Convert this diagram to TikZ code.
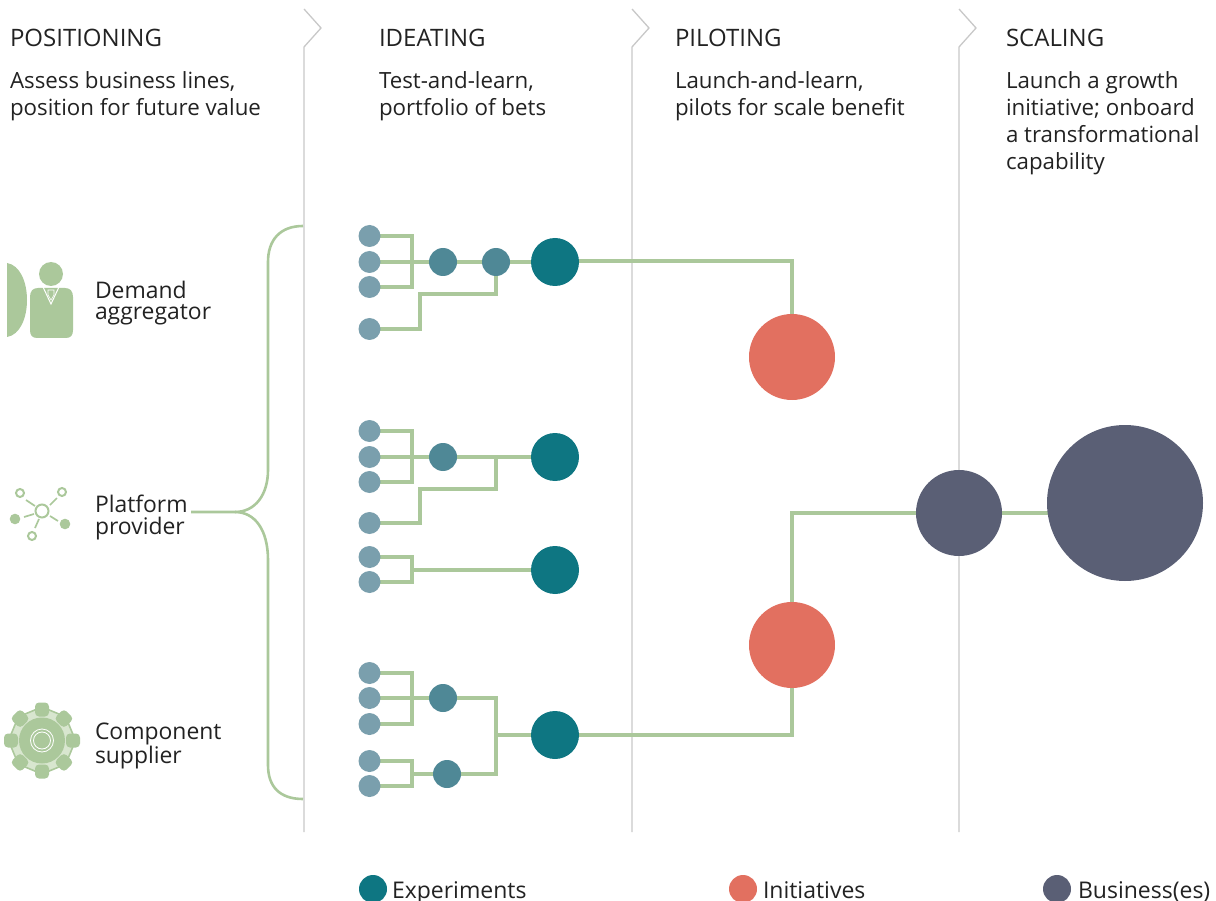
\documentclass[tikz,border=0pt]{standalone}
\usepackage{fontspec}
\setmainfont{Open Sans}
\usetikzlibrary{calc}
\definecolor{cgreen}{HTML}{ABC89B}
\definecolor{clight}{HTML}{D8E6CF}
\definecolor{cgrey}{HTML}{C8C8C8}
\definecolor{cteal}{HTML}{0E7682}
\definecolor{cmed}{HTML}{4F8896}
\definecolor{csmall}{HTML}{7A9FAD}
\definecolor{cred}{HTML}{E27060}
\definecolor{cslate}{HTML}{5A5F75}
\definecolor{ctext}{HTML}{222222}
\tikzset{
 x=1pt,y=-1pt,
 dot/.style={circle,draw=none,inner sep=0pt,minimum size=#1},
 sm/.style={dot=22pt,fill=csmall},
 md/.style={dot=28pt,fill=cmed},
 lg/.style={dot=48pt,fill=cteal},
 ini/.style={dot=86pt,fill=cred},
 biz/.style={dot=86pt,fill=cslate},
 bigbiz/.style={dot=156pt,fill=cslate},
 leg/.style={dot=28pt},
 conn/.style={draw=cgreen,line width=3.3pt},
 bracepath/.style={draw=cgreen,line width=2.6pt},
 phase/.style={draw=cgrey,line width=1.3pt},
 txt/.style={anchor=north west,inner sep=0pt,outer sep=0pt,align=left,text=ctext,font=\fontsize{22.9}{21.5}\selectfont},
 head/.style={anchor=base west,inner sep=0pt,outer sep=0pt,text=ctext,font=\fontsize{24}{27}\selectfont},
 legt/.style={anchor=base west,inner sep=0pt,outer sep=0pt,text=ctext,font=\fontsize{23}{27}\selectfont},
 body/.style={txt,font=\fontsize{22.3}{27}\selectfont},
 icon/.style={fill=cgreen,draw=none},
 ring/.style={draw=cgreen,line width=2pt,fill=white},
}
\begin{document}
\begin{tikzpicture}
\useasboundingbox (0,0) rectangle (1216,901);

% phase dividers
\foreach \px in {304,632,959}{
 \draw[phase] (\px,832) -- (\px,47) -- (\px+17,28) -- (\px,9);
}

% headers
\node[head] (h1) at (10,46.5) {POSITIONING};
\node[head] (h2) at (379,46.5) {IDEATING};
\node[head] (h3) at (675,46.5) {PILOTING};
\node[head] (h4) at (1006,46.5) {SCALING};
\node[body] (b1) at (10,72) {Assess business lines,\\position for future value};
\node[body] (b2) at (379,72) {Test-and-learn,\\portfolio of bets};
\node[body] (b3) at (675,72) {Launch-and-learn,\\pilots for scale benefit};
\node[body] (b4) at (1006,72) {Launch a growth\\initiative; onboard\\a transformational\\capability};

% row labels
\node[txt] (l1) at (95,281) {Demand\\aggregator};
\node[txt] (l2) at (95,495) {Platform\\provider};
\node[txt] (l3) at (95,723) {Component\\supplier};

% positions (named first, so the connectors can lie under the circles)
\coordinate (a1) at (369.5,236);
\coordinate (a2) at (369.5,262);
\coordinate (a3) at (369.5,287);
\coordinate (a4) at (369.5,329);
\coordinate (a5) at (443,262);
\coordinate (a6) at (496,262);
\coordinate (a7) at (555,262);
\coordinate (i1) at (792,357);
\coordinate (c1) at (369.5,431);
\coordinate (c2) at (369.5,457);
\coordinate (c3) at (369.5,482);
\coordinate (c4) at (369.5,523);
\coordinate (c5) at (443,457);
\coordinate (c7) at (555,457);
\coordinate (d1) at (369.5,557);
\coordinate (d2) at (369.5,582);
\coordinate (d7) at (555,570);
\coordinate (e1) at (369.5,673);
\coordinate (e2) at (369.5,698);
\coordinate (e3) at (369.5,724);
\coordinate (e5) at (443,698);
\coordinate (f1) at (369.5,761);
\coordinate (f2) at (369.5,786);
\coordinate (f5) at (447,774);
\coordinate (e7) at (555,735);
\coordinate (i2) at (792,645);
\coordinate (b5) at (959,513);
\coordinate (b6) at (1125,503);
\coordinate (bs) at (191,512);
\coordinate (bt) at (303,226);
\coordinate (bb) at (303,799);

% connectors
\draw[conn] (a1) -| (412,287) -- (a3);
\draw[conn] (a2) -- (a5) -- (a6) -- (a7);
\draw[conn] (a4) -| (420,294) -| (a6);
\draw[conn] (555,261) -| (i1);
\draw[conn] (c1) -| (412,482) -- (c3);
\draw[conn] (c2) -- (c5) -- (c7);
\draw[conn] (c4) -| (420,489) -| (496,457);
\draw[conn] (d1) -| (412,582) -- (d2);
\draw[conn] (412,570) -- (d7);
\draw[conn] (e1) -| (412,724) -- (e3);
\draw[conn] (e2) -- (e5);
\draw[conn] (f1) -| (412,786) -- (f2);
\draw[conn] (412,774) -- (f5);
\draw[conn] (e5) -| (496,774) -- (f5);
\draw[conn] (496,735) -- (e7);
\draw[conn] (e7) -| (i2);
\draw[conn] (i2) |- (b5);
\draw[conn] (b5) -- (1125,513);

% circles
\foreach \n in {a1,a2,a3,a4,c1,c2,c3,c4,d1,d2,e1,e2,e3,f1,f2}{\node[sm] (\n) at (\n) {};}
\foreach \n in {a5,a6,c5,e5,f5}{\node[md] (\n) at (\n) {};}
\foreach \n in {a7,c7,d7,e7}{\node[lg] (\n) at (\n) {};}
\foreach \n in {i1,i2}{\node[ini] (\n) at (\n) {};}
\node[biz] (b5) at (b5) {};
\node[bigbiz] (b6) at (b6) {};

% legend
\node[leg,fill=cteal] (k1) at (373,889) {};
\node[leg,fill=cred] (k2) at (743,889) {};
\node[leg,fill=cslate] (k3) at (1057,889) {};
\node[legt] (t1) at (392,898) {Experiments};
\node[legt] (t2) at (763,898) {Initiatives};
\node[legt] (t3) at (1078,898) {Business(es)};

% brace
\draw[bracepath] (bs) -- (235,512) .. controls (255,512) and (268,495) .. (268,470) -- (268,262) .. controls (268,240) and (280,226) .. (bt);
\draw[bracepath] (235,512) .. controls (255,512) and (268,530) .. (268,560) -- (268,765) .. controls (268,787) and (280,799) .. (bb);

% demand aggregator icon
\fill[icon] (7,263) .. controls (20,265) and (27,282) .. (27,300) .. controls (27,318) and (20,335) .. (7,337) -- cycle;
\fill[icon] (51,274) circle (12);
\fill[icon] (30,297) .. controls (30,291) and (33,288) .. (38,288) -- (65,288) .. controls (70,288) and (73,291) .. (73,297) -- (73,330) .. controls (73,335) and (71,338) .. (66,338) -- (37,338) .. controls (32,338) and (30,335) .. (30,330) -- cycle;
\draw[white,line width=1pt] (43,287) -- (51,304) -- (59,287);
\draw[icon,draw=white,line width=0.6pt] (48,290) -- (54,290) -- (54,295) -- (51,300) -- (48,295) -- cycle;

% platform icon
\draw[cgreen,line width=1.7pt]
 (35,506) -- (26,500) (50,505) -- (57,498) (34,514) -- (24,517) (50,516) -- (58,521) (39,519) -- (35,528);
\draw[ring] (42,511) circle (6.5);
\draw[ring] (20,493) circle (4);
\draw[ring] (62,492) circle (4);
\draw[ring] (32,536) circle (4);
\fill[icon] (15,519) circle (5.3);
\fill[icon] (65,524) circle (5.3);

% component icon
\begin{scope}[shift={(42,740.5)}]
\draw[fill=clight,draw=cgreen,line width=1.6pt]
 (0:33.5) -- (45:33.5) -- (90:33.5) -- (135:33.5) -- (180:33.5) -- (225:33.5) -- (270:33.5) -- (315:33.5) -- cycle;
\foreach \a in {0,45,...,315}{
 \fill[icon,rounded corners=4pt,rotate=\a] (24,-7) rectangle (38,7);
}
\fill[icon] (0,0) circle (23);
\draw[white,line width=0.8pt] (0,0) circle (11.5) (0,0) circle (8.5);
\end{scope}
\end{tikzpicture}
\end{document}
